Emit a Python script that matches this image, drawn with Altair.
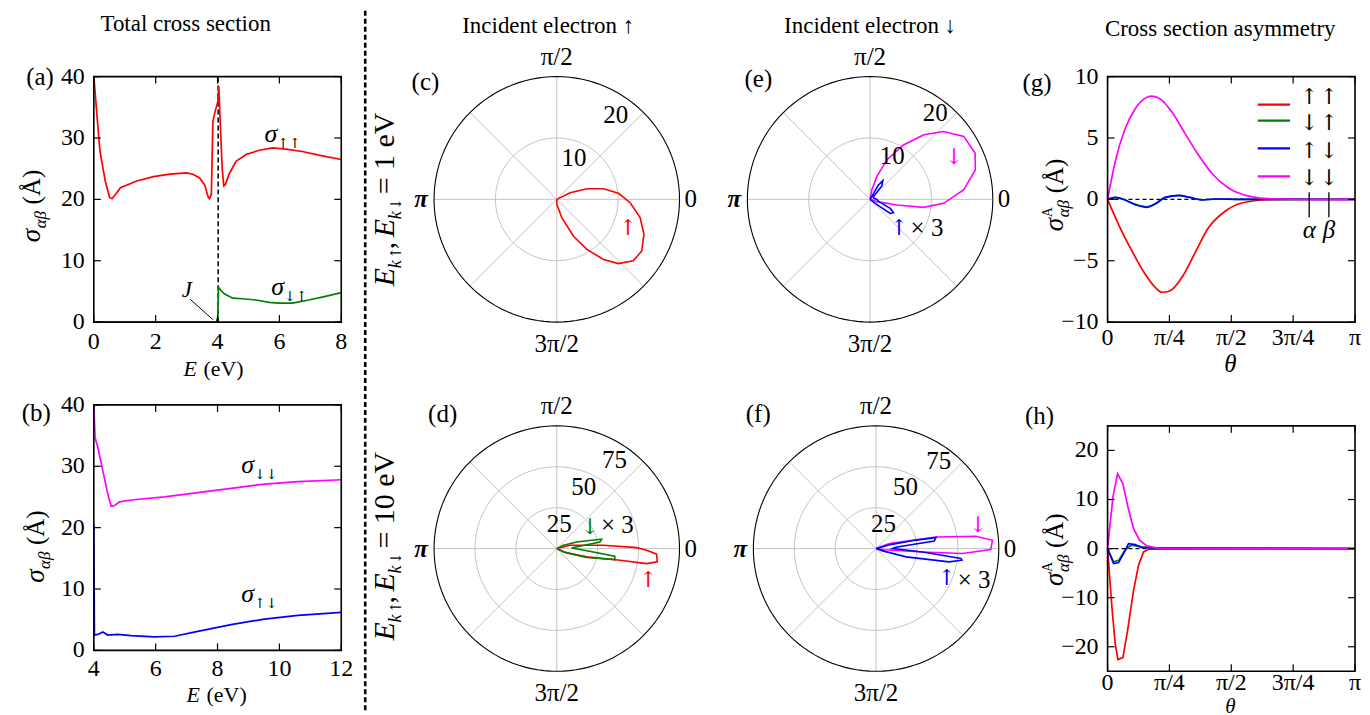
import altair as alt
import numpy as np
import pandas as pd

FONT = "Liberation Serif, DejaVu Serif, serif"
ARROW_FONT = "DejaVu Serif, serif"
RED, GREEN, BLUE, MAG = "#ff0000", "#008000", "#0000ff", "#ff00ff"
GRID = "#c4c4c4"
PI = np.pi
TICKF = 24    # tick label size
TITLEF = 23   # column title size

# ---------------- (a) total cross section, E = 0..8 eV
a_E_uu = [0.0, 0.1, 0.2, 0.37, 0.51, 0.59, 0.7, 0.86, 1.39, 1.93, 2.46, 3.0, 3.2, 3.42, 3.58,
          3.69, 3.74, 3.8, 3.85, 3.92, 4.01, 4.04, 4.09, 4.15, 4.2, 4.25, 4.39, 4.6, 4.92,
          5.35, 5.78, 6.2, 6.74, 7.27, 8.0]
a_s_uu = [40, 33.8, 27.8, 23.0, 20.3, 20.1, 20.8, 21.9, 23.0, 23.7, 24.1, 24.3, 24.1, 23.5, 22.4,
          20.5, 20.1, 20.8, 32.7, 34.3, 35.9, 38.4, 32.2, 25.1, 22.2, 22.4, 24.3, 26.2, 27.3,
          28.0, 28.4, 28.2, 27.8, 27.2, 26.5]
a_E_du = [0.0, 3.96, 4.01, 4.03, 4.12, 4.22, 4.49, 4.81, 5.24, 5.67, 5.99, 6.42, 6.95, 7.49, 8.0]
a_s_du = [0.0, 0.0, 0.8, 5.7, 5.1, 4.6, 3.9, 3.8, 3.6, 3.2, 3.1, 3.1, 3.6, 4.2, 4.8]
a_xticks = [0, 2, 4, 6, 8]
a_yticks = [0, 10, 20, 30, 40]

# ---------------- (b) total cross section, E = 4..12 eV
b_E_dd = [4.0, 4.04, 4.13, 4.29, 4.45, 4.56, 4.67, 4.83, 5.21, 6.29, 7.36, 8.44, 9.52, 10.6, 12.0]
b_s_dd = [40, 34.7, 33.1, 29.3, 25.5, 23.5, 23.6, 24.2, 24.5, 25.0, 25.7, 26.4, 27.1, 27.5, 27.8]
b_E_ud = [4.0, 4.02, 4.13, 4.29, 4.45, 4.77, 5.21, 5.96, 6.61, 7.36, 8.44, 9.52, 10.6, 12.0]
b_s_ud = [20.5, 2.5, 2.6, 3.0, 2.5, 2.6, 2.4, 2.2, 2.3, 3.1, 4.2, 5.1, 5.7, 6.2]
b_xticks = [4, 6, 8, 10, 12]
b_yticks = [0, 10, 20, 30, 40]

# ---------------- (g) asymmetry, E = 1 eV (theta in rad)
g_t_uu = [0, 0.14, 0.309, 0.478, 0.605, 0.689, 0.795, 0.943, 1.112, 1.281, 1.493, 1.704, 2.042, 2.5, PI]
g_a_uu = [0, -2.05, -4.2, -6.1, -7.17, -7.57, -7.44, -6.36, -4.34, -2.32, -0.97, -0.3, -0.03, 0, 0]
g_t_du = [0, 0.097, 0.182, 0.351, 0.499, 0.605, 0.731, 0.9, 1.048, 1.196, 1.366, 1.704, PI]
g_a_du = [0, 0.14, 0.04, -0.4, -0.6, -0.36, 0.14, 0.3, 0.15, -0.04, 0.02, 0, 0]
g_t_ud = [0, 0.097, 0.182, 0.351, 0.499, 0.605, 0.731, 0.9, 1.048, 1.196, 1.366, 1.704, PI]
g_a_ud = [0, 0.16, 0.05, -0.43, -0.65, -0.38, 0.16, 0.32, 0.16, -0.05, 0.03, 0, 0]
g_t_dd = [0, 0.097, 0.224, 0.351, 0.478, 0.562, 0.668, 0.816, 0.985, 1.154, 1.323, 1.535, 1.789, 2.127, 2.6, PI]
g_a_dd = [0, 3.07, 5.77, 7.39, 8.25, 8.41, 8.19, 7.12, 5.36, 3.61, 2.13, 0.92, 0.27, 0.03, 0, 0]
g_yticks = [-10, -5, 0, 5, 10]

# ---------------- (h) asymmetry, E = 10 eV
h_t_uu = [0, 0.055, 0.097, 0.131, 0.195, 0.258, 0.33, 0.393, 0.457, 0.52, PI]
h_a_uu = [0, -11.9, -19.3, -22.6, -22.2, -16.3, -8.5, -3.4, -0.68, -0.14, 0]
h_t_du = [0, 0.076, 0.14, 0.22, 0.3, 0.436, 0.6, PI]
h_a_du = [0, -2.7, -2.4, -0.34, 0.68, 0.34, 0.1, 0]
h_t_ud = [0, 0.076, 0.14, 0.203, 0.266, 0.351, 0.436, PI]
h_a_ud = [0, -3.05, -2.85, -1.0, 1.02, 0.81, 0.2, 0]
h_t_dd = [0, 0.068, 0.127, 0.195, 0.258, 0.33, 0.406, 0.499, 0.647, PI]
h_a_dd = [0, 10.5, 15.25, 13.2, 8.5, 4.07, 1.7, 0.54, 0.07, 0]
h_yticks = [-20, -10, 0, 10, 20]

theta_ticks = [0, PI / 4, PI / 2, 3 * PI / 4, PI]
theta_labels = ["0", "π/4", "π/2", "3π/4", "π"]

# ---------------- polar differential cross sections (angle in degrees, radius as plotted)
c_t_uu = [30, 26.6, 19.6, 12.9, 5.6, -2.6, -12.4, -21.8, -31.3, -38.8, -46.2, -52.1, -59, -65.6, -74.7, -90, -100]
c_r_uu = [0, 2.43, 5.19, 7.8, 10.1, 11.97, 13.9, 15.3, 16.2, 16.0, 14.5, 12.4, 9.5, 6.6, 3.1, 0.8, 0]
d_t_uu = [30, 14, 4.1, 0.7, -1.1, -3.2, -7.5, -9.5, -10.4, -15.5, -23.4, -35]
d_r_uu = [0, 8.4, 28.5, 48.8, 54.9, 61.1, 61.9, 55.6, 39.3, 19.0, 6.6, 0]
d_t_du = [30, 26.6, 18.4, 13.4, 11.7, 8.7, 6, 2, -3, -7.5, -10.7, -16.7, -26.6, -35]
d_r_du = [0, 4.5, 12.9, 21.9, 28.0, 26.7, 14, 9, 16, 35.7, 36.2, 19.1, 4.5, 0]      # shown x 3
e_t_dd = [85, 80, 73.6, 67, 58.5, 50.3, 42.7, 33.9, 23.7, 15.6, 5.7, -3.1, -8.5, -12, -19, -25]
e_r_dd = [0, 1.55, 3.86, 6.98, 10.4, 13.7, 16.3, 18.4, 18.7, 17.8, 15.3, 12.0, 8.8, 4.46, 1.15, 0]
e_t_ud = [65, 59.8, 55.8, 48.8, 38.7, 20, 0, -15, -24.2, -29.7, -35, -38.7, -45]
e_r_ud = [0, 2.7, 3.7, 2.9, 0.7, 0.6, 1.1, 1.5, 3.6, 4.4, 4.0, 1.05, 0]              # shown x 3
f_t_dd = [25, 20.6, 11, 7, 4.1, -0.5, -3.3, -4.1, -8, -15]
f_r_dd = [0, 8.7, 37.3, 61.4, 71.3, 70.1, 52.9, 28.5, 5, 0]
f_t_ud = [20, 15, 12, 10.4, 7.5, 4, 0, -4.1, -6.7, -7.7, -10.3, -15.5, -19, -25]
f_r_ud = [0, 10, 25, 37.2, 35.9, 12, 10, 28.5, 52.2, 52.9, 45.4, 19, 4.3, 0]       # shown x 3

SPOKES = [0, 45, 90, 135, 180, 225, 270, 315]
CIRCLE_DEG = list(range(0, 361, 3))


def series(xs, ys, name, color):
    return pd.DataFrame({"x": xs, "y": ys, "s": name, "c": color, "i": range(len(xs))})


def tlayer(rows, xs, ys, **kw):
    df = pd.DataFrame(rows, columns=["x", "y", "t", "c"])
    opts = dict(font=FONT, clip=False, fontSize=TICKF)
    opts.update(kw)
    return alt.Chart(df).mark_text(**opts).encode(
        x=alt.X("x:Q", scale=xs, axis=None),
        y=alt.Y("y:Q", scale=ys, axis=None),
        text="t:N",
        color=alt.Color("c:N", scale=None),
    )


def composite(x, y, pieces, xs, ys, angle=0, color="black", align="left"):
    out = []
    for piece in pieces:
        text, size, style, dx, dy = piece[:5]
        font = piece[5] if len(piece) > 5 else FONT
        out.append(tlayer([(x, y, text, color)], xs, ys, fontSize=size, fontStyle=style, font=font,
                          dx=dx, dy=dy, angle=angle, align=align, baseline="alphabetic"))
    return out


def sigma_label(x, y, sub, xs, ys):
    return composite(x, y, [("σ", 26, "italic", 0, 0), (sub, 14, "normal", 13, 6, ARROW_FONT)], xs, ys)


def ytitle(x, y, xs, ys, sup=False):
    p = [("σ", 27, "italic", 0, 0), ("αβ", 17, "italic", 14, 6), ("(Å)", 25, "normal", 38, 0)]
    if sup:
        p.append(("A", 14, "normal", 14, -11))
    return composite(x, y, p, xs, ys, angle=270)


def rules(rows, xs, ys, cols, **kw):
    df = pd.DataFrame(rows, columns=cols)
    enc = {}
    for c in cols:
        if c == "x":
            enc["x"] = alt.X("x:Q", scale=xs, axis=None)
        elif c == "x2":
            enc["x2"] = alt.X2("x2:Q")
        elif c == "y":
            enc["y"] = alt.Y("y:Q", scale=ys, axis=None)
        elif c == "y2":
            enc["y2"] = alt.Y2("y2:Q")
    enc["color"] = alt.Color("c:N", scale=None)
    opts = dict(clip=False, strokeWidth=1.2)
    opts.update(kw)
    return alt.Chart(df).mark_rule(**opts).encode(**enc)


def cart(lines, xdom, ydom, frame, xt, xl, yt, W, H, pre, post, interp="linear", xdy=10):
    xs = alt.Scale(domain=xdom, nice=False, zero=False)
    ys = alt.Scale(domain=ydom, nice=False, zero=False)
    fx0, fx1, fy0, fy1 = frame
    kx = W / (xdom[1] - xdom[0])
    ky = H / (ydom[1] - ydom[0])
    tl = 7
    main = alt.Chart(lines).mark_line(strokeWidth=1.7, clip=False, interpolate=interp).encode(
        x=alt.X("x:Q", scale=xs, axis=None),
        y=alt.Y("y:Q", scale=ys, axis=None),
        color=alt.Color("c:N", scale=None), detail="s:N", order="i:Q")
    fr = alt.Chart(pd.DataFrame({"x": [fx0], "x2": [fx1], "y": [fy0], "y2": [fy1]})).mark_rect(
        filled=False, stroke="black", strokeWidth=1.6, clip=False).encode(
        x=alt.X("x:Q", scale=xs, axis=None), x2="x2:Q",
        y=alt.Y("y:Q", scale=ys, axis=None), y2="y2:Q")
    tk = []
    tk.append(rules([(v, fy0, fy0 + tl / ky, "black") for v in xt] +
                    [(v, fy1, fy1 - tl / ky, "black") for v in xt], xs, ys, ["x", "y", "y2", "c"]))
    tk.append(rules([(fx0, fx0 + tl / kx, v, "black") for v in yt] +
                    [(fx1, fx1 - tl / kx, v, "black") for v in yt], xs, ys, ["x", "x2", "y", "c"]))
    labs = [
        tlayer([(v, fy0, l, "black") for v, l in zip(xt, xl)], xs, ys, align="center", baseline="top", dy=xdy),
        tlayer([(fx0, v, f"{v}".replace("-", "−"), "black") for v in yt], xs, ys, align="right",
               baseline="middle", dx=-9),
    ]
    layers = pre(xs, ys) + [main] + tk + labs + [fr] + post(xs, ys)
    return alt.layer(*layers).properties(width=W, height=H)


def pline(df, R, xs, ys, **kw):
    opts = dict(clip=False, strokeWidth=1.6)
    opts.update(kw)
    return alt.Chart(df).transform_calculate(
        px=f"datum.r/{R}*cos(datum.t*PI/180)",
        py=f"datum.r/{R}*sin(datum.t*PI/180)",
    ).mark_line(**opts).encode(
        x=alt.X("px:Q", scale=xs, axis=None),
        y=alt.Y("py:Q", scale=ys, axis=None),
        color=alt.Color("c:N", scale=None),
        detail="s:N",
        order="i:Q",
    )


def pseries(ts, rs, name, color):
    return pd.DataFrame({"t": ts, "r": rs, "s": name, "c": color, "i": range(len(ts))})


def polar(curves, R, rings, ring_pos, texts, xdom, W, ydom=(-1, 1), H=246):
    xs = alt.Scale(domain=xdom, nice=False, zero=False)
    ys = alt.Scale(domain=list(ydom), nice=False, zero=False)
    ring_df = pd.concat([pd.DataFrame({"t": CIRCLE_DEG, "r": rv, "s": f"r{rv}", "c": GRID,
                                       "i": range(len(CIRCLE_DEG))}) for rv in rings])
    outer_df = pd.DataFrame({"t": CIRCLE_DEG, "r": R, "s": "outer", "c": "black", "i": range(len(CIRCLE_DEG))})
    spoke_df = pd.concat([pd.DataFrame({"t": [a, a], "r": [0, R], "s": f"sp{a}", "c": GRID, "i": [0, 1]})
                          for a in SPOKES])
    layers = [pline(ring_df, R, xs, ys, strokeWidth=1),
              pline(spoke_df, R, xs, ys, strokeWidth=1),
              pline(outer_df, R, xs, ys, strokeWidth=1.1)]
    for df in curves:
        layers.append(pline(df, R, xs, ys))
    layers.append(tlayer([(x, y, str(v), "black") for (v, (x, y)) in zip(rings + [R], ring_pos)],
                         xs, ys, align="center", baseline="middle", fontSize=25))
    layers.append(tlayer([(1.04, 0, "0", "black")], xs, ys, align="left", baseline="middle", fontSize=25))
    layers.append(tlayer([(-1.05, 0, "π", "black")], xs, ys, align="right", baseline="middle",
                         fontStyle="italic", fontWeight="bold", fontSize=25))
    layers.append(tlayer([(0, 1.16, "π/2", "black"), (0, -1.18, "3π/2", "black")], xs, ys,
                         align="center", baseline="middle", fontSize=25))
    for rows, kw in texts:
        layers.append(tlayer(rows, xs, ys, **kw))
    return alt.layer(*layers).properties(width=W, height=H)


# ---------------- panel (a)
def a_pre(xs, ys):
    return [rules([(4.02, 0, 40, "black")], xs, ys, ["x", "y", "y2", "c"], strokeDash=[5, 3], strokeWidth=1.5)]


def a_post(xs, ys):
    out = []
    out.append(tlayer([(-1.29, 40, "(a)", "black")], xs, ys, align="right", baseline="middle", fontSize=25))
    out.append(tlayer([(2.97, 48.5, "Total cross section", "black")], xs, ys, align="center",
                      baseline="middle", fontSize=TITLEF))
    out += ytitle(-1.74, 13.0, xs, ys)
    out += composite(2.9, -8.75, [("E", 22, "italic", 0, 0), ("(eV)", 22, "normal", 20, 0)], xs, ys)
    out += sigma_label(5.52, 29.3, "↑↑", xs, ys)
    out += sigma_label(5.74, 4.4, "↓↑", xs, ys)
    out.append(tlayer([(2.84, 4.07, "J", "black")], xs, ys, align="left", baseline="alphabetic",
                      fontStyle="italic", fontSize=23))
    out.append(rules([(3.12, 3.7, 3.85, 0.4, "black")], xs, ys, ["x", "y", "x2", "y2", "c"], strokeWidth=1))
    return out


a_lines = pd.concat([series(a_E_uu, a_s_uu, "uu", RED), series(a_E_du, a_s_du, "du", GREEN)])
pa = cart(a_lines, [0, 8], [0, 40], (0, 8, 0, 40), a_xticks, [str(v) for v in a_xticks], a_yticks,
          248, 246, a_pre, a_post, xdy=8)


# ---------------- panel (b)
def b_post(xs, ys):
    out = []
    out.append(tlayer([(2.61, 38.7, "(b)", "black")], xs, ys, align="right", baseline="middle", fontSize=25))
    out += ytitle(2.39, 11.0, xs, ys)
    out += composite(7.0, -8.4, [("E", 22, "italic", 0, 0), ("(eV)", 22, "normal", 20, 0)], xs, ys)
    out += sigma_label(8.77, 28.9, "↓↓", xs, ys)
    out += sigma_label(8.77, 7.8, "↑↓", xs, ys)
    return out


b_lines = pd.concat([series(b_E_dd, b_s_dd, "dd", MAG), series(b_E_ud, b_s_ud, "ud", BLUE)])
pb = cart(b_lines, [4, 12], [0, 40], (4, 12, 0, 40), b_xticks, [str(v) for v in b_xticks], b_yticks,
          248, 246, lambda xs, ys: [], b_post, xdy=7)


# ---------------- panel (g)
def zero_pre(xs, ys):
    return [rules([(0, 0, PI, "black")], xs, ys, ["x", "y", "x2", "c"], strokeDash=[4, 3], strokeWidth=1.2)]


LEG_Y = [7.72, 6.42, 4.15, 1.87]          # legend line heights
LEG_AY = [8.37, 6.26, 3.98, 1.71]         # legend arrow rows
LEG_C = [RED, GREEN, BLUE, MAG]
LEG_A = [("↑", "↑"), ("↓", "↑"), ("↑", "↓"), ("↓", "↓")]


def g_post(xs, ys):
    out = []
    out.append(tlayer([(-0.71, 9.5, "(g)", "black")], xs, ys, align="right", baseline="middle", fontSize=25))
    out.append(tlayer([(1.43, 13.9, "Cross section asymmetry", "black")], xs, ys, align="center",
                      baseline="middle", fontSize=TITLEF))
    out += ytitle(-0.56, -2.6, xs, ys, sup=True)
    out.append(tlayer([(1.56, -14.07, "θ", "black")], xs, ys, align="center", baseline="alphabetic",
                      fontStyle="italic", fontSize=25))
    out.append(rules([(1.907, y, 2.317, c) for y, c in zip(LEG_Y, LEG_C)], xs, ys, ["x", "y", "x2", "c"],
                     strokeWidth=2.2))
    rows = []
    for y, (p, q) in zip(LEG_AY, LEG_A):
        rows.append((2.56, y, p, "black"))
        rows.append((2.81, y, q, "black"))
    out.append(tlayer(rows, xs, ys, align="center", baseline="middle", fontSize=22, font=ARROW_FONT))
    out.append(rules([(2.56, 0.57, -1.46, "black"), (2.81, 0.57, -1.46, "black")], xs, ys,
                     ["x", "y", "y2", "c"], strokeWidth=1.3))
    out.append(tlayer([(2.56, -2.5, "α", "black"), (2.81, -2.5, "β", "black")], xs, ys, align="center",
                      baseline="middle", fontStyle="italic", fontSize=25))
    return out


g_lines = pd.concat([series(g_t_uu, g_a_uu, "uu", RED), series(g_t_du, g_a_du, "du", GREEN),
                     series(g_t_ud, g_a_ud, "ud", BLUE), series(g_t_dd, g_a_dd, "dd", MAG)])
pg = cart(g_lines, [0, PI], [-10, 10], (0, PI, -10, 10), theta_ticks, theta_labels, g_yticks,
          248, 246, zero_pre, g_post, interp="monotone", xdy=4)

# row 2 cells are 267 px tall (the (b) panel sits 21 px higher than (d), (f), (h))
EXTRA = 21


# ---------------- panel (h)
def h_post(xs, ys):
    out = []
    out.append(tlayer([(-0.68, 27.0, "(h)", "black")], xs, ys, align="right", baseline="middle", fontSize=25))
    out += ytitle(-0.56, -7.6, xs, ys, sup=True)
    out.append(tlayer([(1.56, -33.4, "θ", "black")], xs, ys, align="center", baseline="alphabetic",
                      fontStyle="italic", fontSize=21))
    return out


h_lines = pd.concat([series(h_t_uu, h_a_uu, "uu", RED), series(h_t_du, h_a_du, "du", GREEN),
                     series(h_t_ud, h_a_ud, "ud", BLUE), series(h_t_dd, h_a_dd, "dd", MAG)])
ph = cart(h_lines, [0, PI], [-25, 25 + EXTRA * 50 / 246], (0, PI, -25, 25), theta_ticks, theta_labels,
          h_yticks, 248, 246 + EXTRA, zero_pre, h_post, xdy=0)

# ---------------- polar panels
K = 123.0
XD_C = [-157 / K, 157 / K]
XD_E = [-157 / K, 238 / K]
XD_F = [-163 / K, 232 / K]
YD2 = (-1, 1 + EXTRA / K)
AR = dict(align="center", baseline="middle", fontSize=22, font=ARROW_FONT)
LB = dict(align="center", baseline="middle", fontSize=25)
X3 = dict(align="left", baseline="middle", fontSize=25)

c_texts = [([(-1.07, 0.96, "(c)", "black")], LB),
           ([(-0.07, 1.41, "Incident electron ↑", "black")], dict(align="center", baseline="middle", fontSize=TITLEF)),
           ([(0.58, -0.23, "↑", RED)], AR)]
d_texts = [([(-0.93, 1.10, "(d)", "black")], LB),
           ([(0.745, -0.26, "↑", RED), (0.27, 0.176, "↓", GREEN)], AR),
           ([(0.36, 0.19, "× 3", "black")], X3)]
e_texts = [([(-0.91, 0.98, "(e)", "black")], LB),
           ([(0, 1.41, "Incident electron ↓", "black")], dict(align="center", baseline="middle", fontSize=TITLEF)),
           ([(0.235, -0.236, "↑", BLUE), (0.683, 0.347, "↓", MAG)], AR),
           ([(0.33, -0.236, "× 3", "black")], X3)]
f_texts = [([(-0.96, 1.10, "(f)", "black")], LB),
           ([(0.575, -0.24, "↑", BLUE), (0.83, 0.19, "↓", MAG)], AR),
           ([(0.665, -0.26, "× 3", "black")], X3)]

pc = polar([pseries(c_t_uu, c_r_uu, "uu", RED)], 20, [10], [(0.14, 0.34), (0.48, 0.69)], c_texts, XD_C, 314)
pd_ = polar([pseries(d_t_uu, d_r_uu, "uu", RED), pseries(d_t_du, d_r_du, "du", GREEN)], 75, [25, 50],
            [(0.02, 0.2), (0.22, 0.5), (0.47, 0.72)], d_texts, XD_C, 314, ydom=YD2, H=246 + EXTRA)
pe = polar([pseries(e_t_dd, e_r_dd, "dd", MAG), pseries(e_t_ud, e_r_ud, "ud", BLUE)], 20, [10],
           [(0.18, 0.35), (0.53, 0.70)], e_texts, XD_E, 395)
pf = polar([pseries(f_t_dd, f_r_dd, "dd", MAG), pseries(f_t_ud, f_r_ud, "ud", BLUE)], 75, [25, 50],
           [(0.06, 0.2), (0.24, 0.5), (0.51, 0.71)], f_texts, XD_F, 395, ydom=YD2, H=246 + EXTRA)


# ---------------- separator column (dashed line and row labels)
def div_scales(h):
    return (alt.Scale(domain=[0, 59], nice=False, zero=False),
            alt.Scale(domain=[0, h], nice=False, zero=False, reverse=True))


def elabel(y, val, xs, ys):
    return composite(53, y, [("E", 30, "italic", 0, 0), ("k", 18, "italic", 18, 7), ("↑", 15, "normal", 27, 7, ARROW_FONT),
                             (",", 30, "normal", 37, 0),
                             ("E", 30, "italic", 49, 0), ("k", 18, "italic", 67, 7), ("↓", 15, "normal", 76, 7, ARROW_FONT),
                             (f"= {val} eV", 30, "normal", 92, 0)], xs, ys, angle=270)


dx1, dy1 = div_scales(246)
div1 = alt.layer(rules([(24, -66, 638, "black")], dx1, dy1, ["x", "y", "y2", "c"], strokeDash=[5, 3], strokeWidth=2.6),
                 *elabel(210, 1, dx1, dy1)).properties(width=59, height=246)
dx2, dy2 = div_scales(246 + EXTRA)
div2 = alt.layer(*elabel(236, 10, dx2, dy2)).properties(width=59, height=246 + EXTRA)

chart = alt.concat(pa, div1, pc, pe, pg, pb, div2, pd_, pf, ph, columns=5,
                   spacing={"row": 83, "column": 0}, bounds="flush").properties(
    padding={"left": 10, "top": 0, "right": 0, "bottom": 0}
).configure_view(strokeWidth=0)

chart.save("out.html", embed_options={"renderer": "svg", "actions": False})
